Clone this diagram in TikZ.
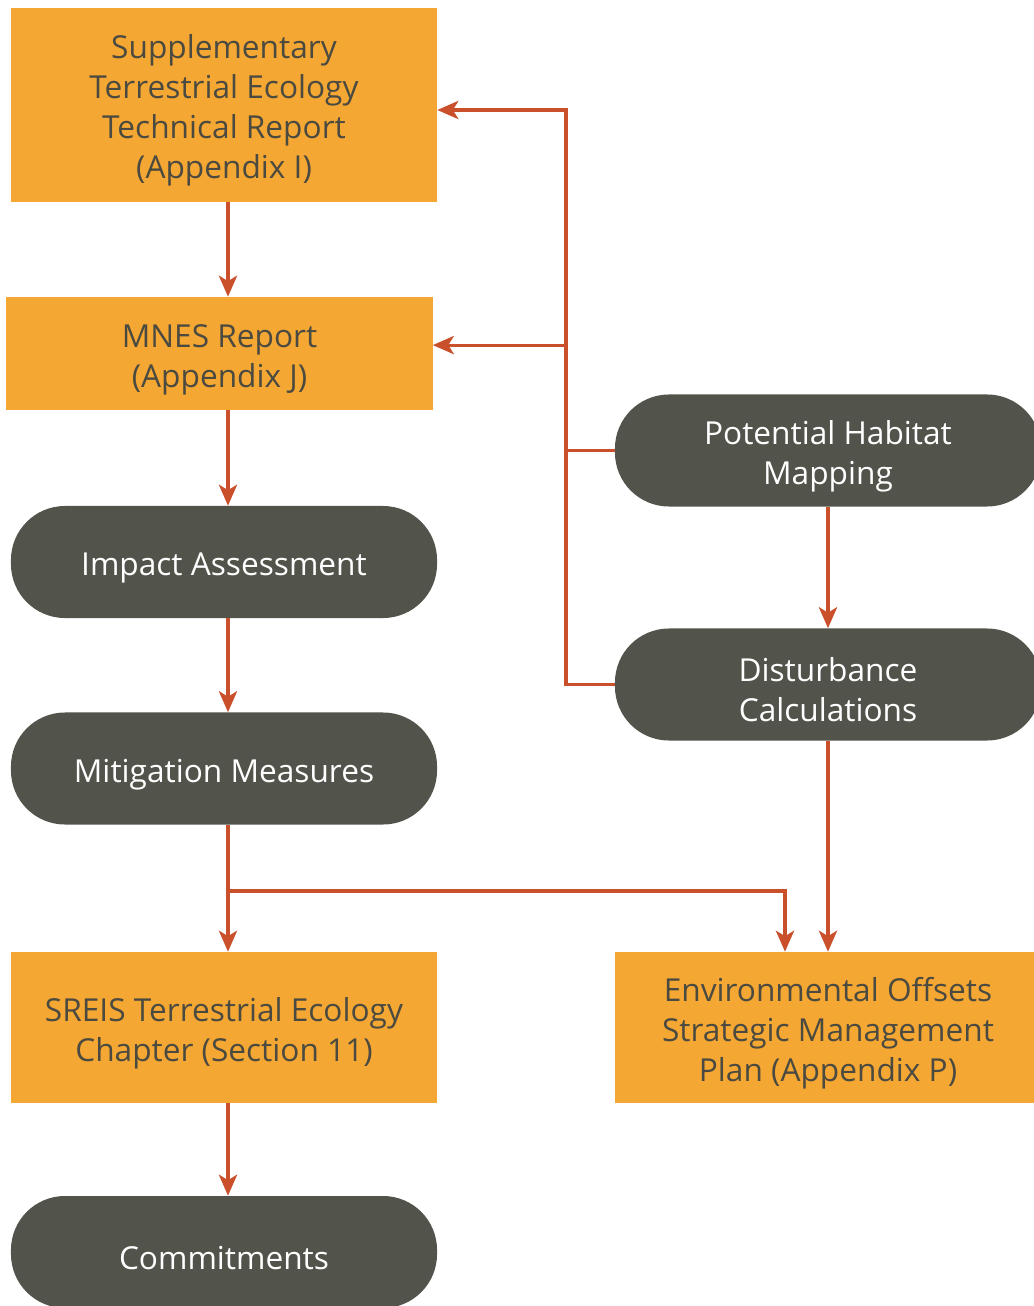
\documentclass[tikz,border=0pt]{standalone}
\usepackage{fontspec}
\setmainfont{Open Sans}
\usetikzlibrary{arrows.meta}
\definecolor{boxorange}{HTML}{F5A733}
\definecolor{pilldark}{HTML}{52534A}
\definecolor{linkred}{HTML}{C9502B}
\definecolor{boxtext}{HTML}{4B4A40}
\newcommand{\lift}{\rule{0pt}{25pt}}
\tikzset{
  report/.style={fill=boxorange, text=boxtext, align=center, minimum width=10.65cm,
    inner sep=0pt, font=\fontsize{22.5}{28.5}\selectfont},
  task/.style={fill=pilldark, text=white, rounded corners=1.35cm, align=center,
    minimum width=10.65cm, minimum height=2.8cm, inner sep=0pt,
    font=\fontsize{22.5}{28.5}\selectfont},
  wire/.style={draw=linkred, line width=2.2pt},
  link/.style={wire, -{Stealth[length=15pt,width=13pt,inset=4pt]}}
}
\begin{document}
\begin{tikzpicture}[x=0.025cm,y=-0.025cm]
      \useasboundingbox (0,0) rectangle (1033,1306);

      % REPORTS
      \node[report, minimum height=4.85cm] (supp) at (224,105)
        {\lift Supplementary\\Terrestrial Ecology\\Technical Report\\(Appendix I)};
      \node[report, minimum height=2.825cm] (mnes) at (219.5,353.5)
        {\lift MNES Report\\(Appendix J)};
      \node[report, minimum height=3.775cm] (sreis) at (224,1027.5)
        {\lift SREIS Terrestrial Ecology\\Chapter (Section 11)};
      \node[report, minimum height=3.775cm] (offsets) at (828,1027.5)
        {\lift Environmental Offsets\\Strategic Management\\Plan (Appendix P)};

      % TASKS
      \node[task] (impact) at (224,562) {\lift Impact Assessment};
      \node[task] (mitig) at (224,768.5) {\lift Mitigation Measures};
      \node[task] (commit) at (224,1252) {\lift Commitments};
      \node[task] (habitat) at (828,450.5) {\lift Potential Habitat\\Mapping};
      \node[task] (disturb) at (828,684.5) {\lift Disturbance\\Calculations};

      % HELPERS
      \coordinate (spine) at (228,0);   % left column of arrows
      \coordinate (bus) at (566,0);     % feedback line
      \coordinate (split) at (228,891);

      % ARROWS
      \draw[link] (supp.south -| spine) -- (mnes.north -| spine);
      \draw[link] (mnes.south -| spine) -- (impact.north -| spine);
      \draw[link] (impact.south -| spine) -- (mitig.north -| spine);
      \draw[link] (mitig.south -| spine) -- (sreis.north -| spine);
      \draw[link] (sreis.south -| spine) -- (commit.north -| spine);
      \draw[link] (split) -| ([xshift=-1.075cm]offsets.north);
      \draw[link] (habitat.south) -- (disturb.north);
      \draw[link] (disturb.south) -- (offsets.north);
      \draw[link] (habitat.west) -- (habitat.west -| bus) |- ([yshift=-0.125cm]supp.east);
      \draw[link] (habitat.west -| bus) |- ([yshift=0.21cm]mnes.east);
      \draw[wire] (disturb.west) -| (habitat.west -| bus);
\end{tikzpicture}
\end{document}
